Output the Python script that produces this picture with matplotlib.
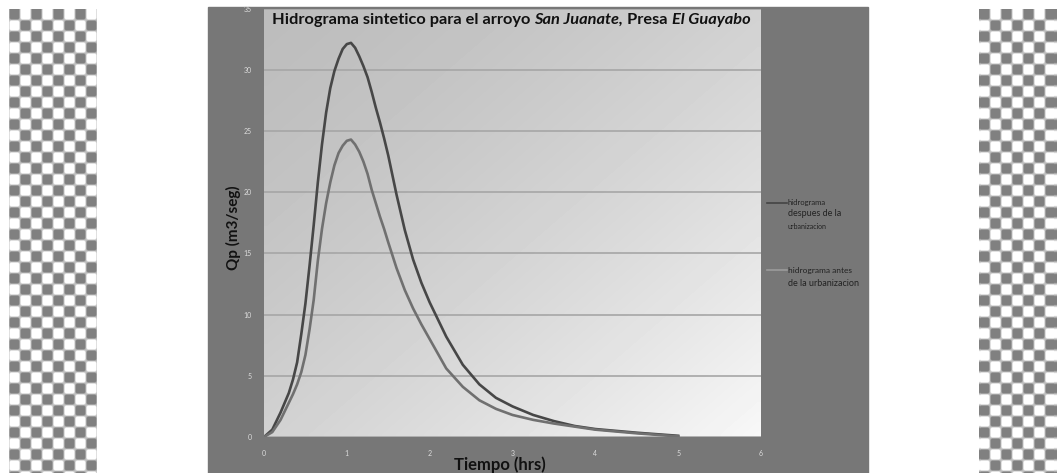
import numpy as np
import matplotlib.pyplot as plt
from matplotlib.patches import Rectangle
from matplotlib.lines import Line2D

W, H = 1057, 473

tiempo = [0, 0.1, 0.2, 0.3, 0.35, 0.4, 0.45, 0.5, 0.55, 0.6, 0.65, 0.7, 0.75, 0.8, 0.85,
          0.9, 0.95, 1.0, 1.05, 1.1, 1.15, 1.2, 1.25, 1.3, 1.35, 1.4, 1.45, 1.5, 1.6,
          1.7, 1.8, 1.9, 2.0, 2.2, 2.4, 2.6, 2.8, 3.0, 3.25, 3.5, 3.75, 4.0, 4.5, 5.0]
despues = [0, 0.6, 2.0, 3.6, 4.7, 6.1, 8.4, 10.9, 14.0, 17.3, 20.8, 23.9, 26.5, 28.5, 29.9,
           30.9, 31.7, 32.1, 32.2, 31.8, 31.1, 30.3, 29.4, 28.2, 26.9, 25.7, 24.4, 23.0, 19.8,
           16.9, 14.5, 12.6, 11.0, 8.2, 5.9, 4.3, 3.2, 2.5, 1.8, 1.3, 0.9, 0.65, 0.35, 0.1]
antes = [0, 0.4, 1.4, 2.8, 3.5, 4.3, 5.3, 6.7, 8.8, 11.2, 14.4, 17.0, 19.1, 20.8, 22.2,
         23.2, 23.8, 24.2, 24.3, 23.9, 23.3, 22.5, 21.5, 20.2, 19.1, 18.0, 17.0, 15.9, 13.8,
         12.0, 10.5, 9.2, 8.0, 5.6, 4.1, 3.0, 2.3, 1.8, 1.4, 1.1, 0.85, 0.6, 0.3, 0.05]
y_ticks = [0, 5, 10, 15, 20, 25, 30, 35]
x_ticks = [0, 1, 2, 3, 4, 5, 6]

plt.rcParams['font.family'] = ['Lato', 'DejaVu Sans']

fig = plt.figure(figsize=(W / 100, H / 100), dpi=100)


def px_axes(x0, y0, x1, y1):
    return fig.add_axes([x0 / W, 1 - y1 / H, (x1 - x0) / W, (y1 - y0) / H])


def fx(x):
    return x / W


def fy(y):
    return 1 - y / H


# fondo transparente (cuadricula) a los lados
def checker(w, h, cell=11):
    yy, xx = np.mgrid[0:h, 0:w]
    a = (((xx // cell) + (yy // cell)) % 2).astype(float)
    b = np.zeros_like(a)
    k = 2
    for dy in range(-k, k + 1):
        for dx in range(-k, k + 1):
            b += np.roll(np.roll(a, dy, axis=0), dx, axis=1)
    b /= (2 * k + 1) ** 2
    v = np.clip((b - 0.3) / 0.4, 0, 1)
    return 0.5 + 0.5 * v


for x0, x1 in [(9, 97), (979, 1057)]:
    cax = px_axes(x0, 9, x1, 473)
    cax.imshow(checker(x1 - x0, 464), cmap='gray', vmin=0, vmax=1,
               aspect='auto', interpolation='bilinear')
    cax.axis('off')

fig.patches.append(Rectangle((fx(208), 0), fx(868) - fx(208), fy(7),
                             transform=fig.transFigure, color='#777777', zorder=-1))

ax = px_axes(264, 8.6, 761, 437)

# degradado del area de trazado
u, v = np.meshgrid(np.linspace(0, 1, 80), np.linspace(0, 1, 80))
s = (u + v) / 2
grad = 0.74 + 0.23 * s ** 1.5
ax.imshow(grad, extent=[0, 1, 0, 1], transform=ax.transAxes, cmap='gray',
          vmin=0, vmax=1, aspect='auto', interpolation='bilinear', zorder=0)

ax.plot(tiempo, despues, color='#474747', lw=1.9, zorder=3, solid_joinstyle='round')
ax.plot(tiempo, antes, color='#707070', lw=1.9, zorder=3, solid_joinstyle='round')

ax.set_xlim(0, 6)
ax.set_ylim(0, 35)
ax.set_xticks(x_ticks)
ax.set_yticks(y_ticks)
ax.yaxis.grid(True, color='#a6a6a6', lw=1.2, zorder=1)
ax.set_axisbelow(True)
ax.tick_params(length=0, labelsize=5, labelcolor='#dcdcdc', pad=9)
for sp in ax.spines.values():
    sp.set_visible(False)

# titulo con partes en cursiva
fig.text(fx(272), fy(20), 'Hidrograma sintetico para el arroyo ', fontsize=11.8,
         fontweight='bold', va='center', color='#111111')
fig.canvas.draw()
for part, style in [('San Juanate,', 'italic'), (' Presa ', 'normal'), ('El Guayabo', 'italic')]:
    bb = fig.texts[-1].get_window_extent()
    fig.text(bb.x1 / W, bb.y0 / H, part, fontsize=11.8, fontweight='bold', style=style,
             color='#111111', va='bottom')
    fig.canvas.draw()

fig.text(fx(233), fy(228), 'Qp (m3/seg)', rotation=90, ha='center', va='center',
         fontsize=11, fontweight='bold', color='#111111')
fig.text(fx(500), fy(465), 'Tiempo (hrs)', ha='center', va='center',
         fontsize=12, fontweight='bold', color='#111111')

# leyenda
fig.lines.append(Line2D([fx(767), fx(787)], [fy(203), fy(203)], transform=fig.transFigure,
                        color='#444444', lw=1.2))
fig.lines.append(Line2D([fx(767), fx(787)], [fy(270), fy(270)], transform=fig.transFigure,
                        color='#9c9c9c', lw=1.2))
leg_txt = [('hidrograma', 203, 5.5), ('despues de la', 213.5, 6.5), ('urbanizacion', 226, 5),
           ('hidrograma antes', 270, 6), ('de la urbanizacion', 283, 6.5)]
for txt, yy, fs in leg_txt:
    fig.text(fx(788), fy(yy), txt, fontsize=fs, va='center', color='#222222')

fig.savefig('out.png', dpi=100)
